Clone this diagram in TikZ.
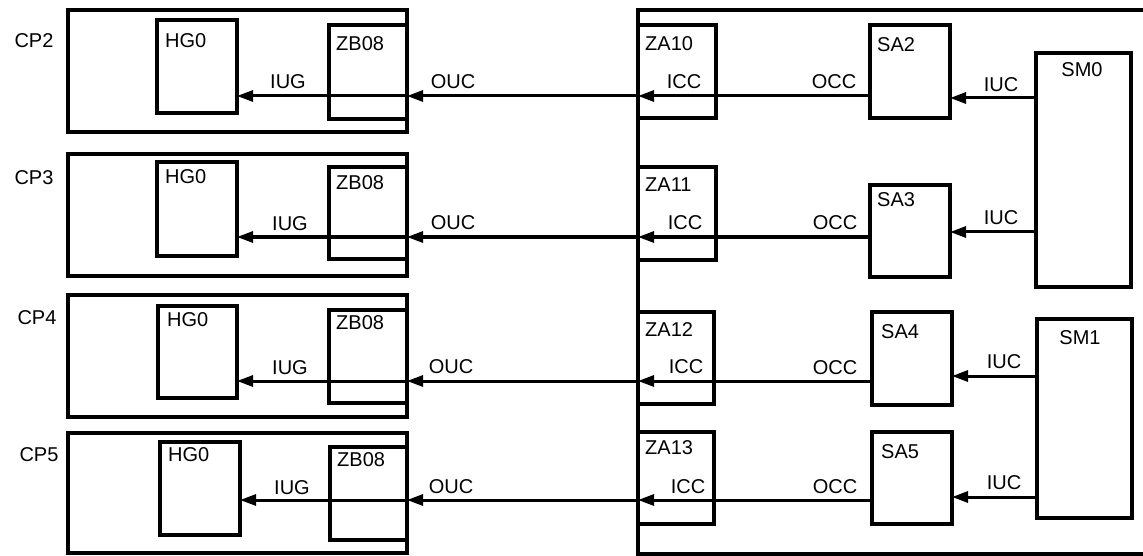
\documentclass[tikz,border=0pt]{standalone}
\usepackage{fontspec}
\setmainfont{Liberation Sans}
\usetikzlibrary{arrows.meta}
\tikzset{
  frame/.style={draw, line width=4.4pt, anchor=north west, inner sep=0pt, outer sep=0pt},
  blk/.style={draw, line width=3.2pt, anchor=north west, inner sep=0pt, outer sep=0pt},
  bigframe/.style={draw, line width=4.4pt},
  lbl/.style={font=\fontsize{20}{20}\selectfont, inner sep=0pt},
  lblw/.style={lbl, anchor=west},
  arr/.style={line width=3pt, -{Triangle[length=16pt,width=11pt]}},
}
\newcommand\mybox[6]{\node[#1, minimum width=#4pt-#2pt, minimum height=#5pt-#3pt] (#6) at (#2,#3) {};}
\begin{document}
\begin{tikzpicture}[x=1pt,y=-1pt]
\useasboundingbox (0,0) rectangle (1143,556);
% left frames
\mybox{frame}{68}{10}{407}{132}{cp2}
\mybox{frame}{68}{154}{407}{276}{cp3}
\mybox{frame}{68}{295}{407}{417}{cp4}
\mybox{frame}{68}{433}{407}{553}{cp5}
% HG0 boxes
\mybox{blk}{157}{20}{237}{113}{hg2}
\mybox{blk}{157}{162}{237}{256}{hg3}
\mybox{blk}{158}{306}{237}{398}{hg4}
\mybox{blk}{160}{442}{240}{535}{hg5}
% ZB08 boxes
\mybox{blk}{329}{25}{407}{119}{zb2}
\mybox{blk}{329}{167}{407}{259}{zb3}
\mybox{blk}{329}{310}{407}{403}{zb4}
\mybox{blk}{330}{447}{407}{540}{zb5}
% big right frame
\coordinate (rtl) at (638,10);
\coordinate (rbl) at (638,554);
\draw[bigframe] (1150,10) -- (rtl) -- (rbl) -- (1150,554);
% ZA boxes
\mybox{blk}{638}{25}{716}{118}{za10}
\mybox{blk}{638}{167}{716}{260}{za11}
\mybox{blk}{638}{312}{714}{404}{za12}
\mybox{blk}{638}{432}{714}{524}{za13}
% SA boxes
\mybox{blk}{870}{25}{950}{118}{sa2}
\mybox{blk}{870}{185}{950}{277}{sa3}
\mybox{blk}{872}{312}{952}{405}{sa4}
\mybox{blk}{872}{432}{952}{524}{sa5}
% SM boxes
\mybox{blk}{1036}{53}{1131}{287}{sm0}
\mybox{blk}{1037}{319}{1132}{518}{sm1}
% row levels
\coordinate (r1) at (0,96);
\coordinate (r2) at (0,237);
\coordinate (r3) at (0,381);
\coordinate (r4) at (0,500);
\coordinate (u1) at (0,98);
\coordinate (u2) at (0,232);
\coordinate (u3) at (0,376);
\coordinate (u4) at (0,497);
% arrows
\draw[arr] (sm0.west |- u1) -- (sa2.east |- u1);
\draw[arr] (sm0.west |- u2) -- (sa3.east |- u2);
\draw[arr] (sm1.west |- u3) -- (sa4.east |- u3);
\draw[arr] (sm1.west |- u4) -- (sa5.east |- u4);
\draw[arr] (sa2.west |- r1) -- (za10.west |- r1);
\draw[arr] (sa3.west |- r2) -- (za11.west |- r2);
\draw[arr] (sa4.west |- r3) -- (za12.west |- r3);
\draw[arr] (sa5.west |- r4) -- (za13.west |- r4);
\draw[arr] (za10.west |- r1) -- (zb2.east |- r1);
\draw[arr] (za11.west |- r2) -- (zb3.east |- r2);
\draw[arr] (za12.west |- r3) -- (zb4.east |- r3);
\draw[arr] (za13.west |- r4) -- (zb5.east |- r4);
\draw[arr] (zb2.east |- r1) -- (hg2.east |- r1);
\draw[arr] (zb3.east |- r2) -- (hg3.east |- r2);
\draw[arr] (zb4.east |- r3) -- (hg4.east |- r3);
\draw[arr] (zb5.east |- r4) -- (hg5.east |- r4);
% CP labels
\node[lbl] (tcp2) at (34,41) {CP2};
\node[lbl] (tcp3) at (34,178) {CP3};
\node[lbl] (tcp4) at (37,318) {CP4};
\node[lbl] (tcp5) at (39,455) {CP5};
% box labels
\node[lblw] (thg2) at (165,41) {HG0};
\node[lblw] (thg3) at (165,177) {HG0};
\node[lblw] (thg4) at (167,320) {HG0};
\node[lblw] (thg5) at (168,455) {HG0};
\node[lblw] (tzb2) at (336,44) {ZB08};
\node[lblw] (tzb3) at (336,183) {ZB08};
\node[lblw] (tzb4) at (336,323) {ZB08};
\node[lblw] (tzb5) at (337,460) {ZB08};
\node[lblw] (tza10) at (645,44) {ZA10};
\node[lblw] (tza11) at (645,185) {ZA11};
\node[lblw] (tza12) at (645,330) {ZA12};
\node[lblw] (tza13) at (645,448) {ZA13};
\node[lblw] (tsa2) at (877,45) {SA2};
\node[lblw] (tsa3) at (877,200) {SA3};
\node[lblw] (tsa4) at (881,332) {SA4};
\node[lblw] (tsa5) at (881,452) {SA5};
\node[lbl] (tsm0) at (1082,70) {SM0};
\node[lbl] (tsm1) at (1080,338) {SM1};
% connector labels
\node[lbl] (liug2) at (288,82) {IUG};
\node[lbl] (liug3) at (290,224) {IUG};
\node[lbl] (liug4) at (290,368) {IUG};
\node[lbl] (liug5) at (292,488) {IUG};
\node[lbl] (louc2) at (453,82) {OUC};
\node[lbl] (louc3) at (453,223) {OUC};
\node[lbl] (louc4) at (451,367) {OUC};
\node[lbl] (louc5) at (451,487) {OUC};
\node[lbl] (licc2) at (684,82) {ICC};
\node[lbl] (licc3) at (685,223) {ICC};
\node[lbl] (licc4) at (686,367) {ICC};
\node[lbl] (licc5) at (688,487) {ICC};
\node[lbl] (locc2) at (834,82) {OCC};
\node[lbl] (locc3) at (835,223) {OCC};
\node[lbl] (locc4) at (835,368) {OCC};
\node[lbl] (locc5) at (835,487) {OCC};
\node[lbl] (liuc2) at (1001,85) {IUC};
\node[lbl] (liuc3) at (1001,218) {IUC};
\node[lbl] (liuc4) at (1004,362) {IUC};
\node[lbl] (liuc5) at (1004,483) {IUC};
\end{tikzpicture}
\end{document}
